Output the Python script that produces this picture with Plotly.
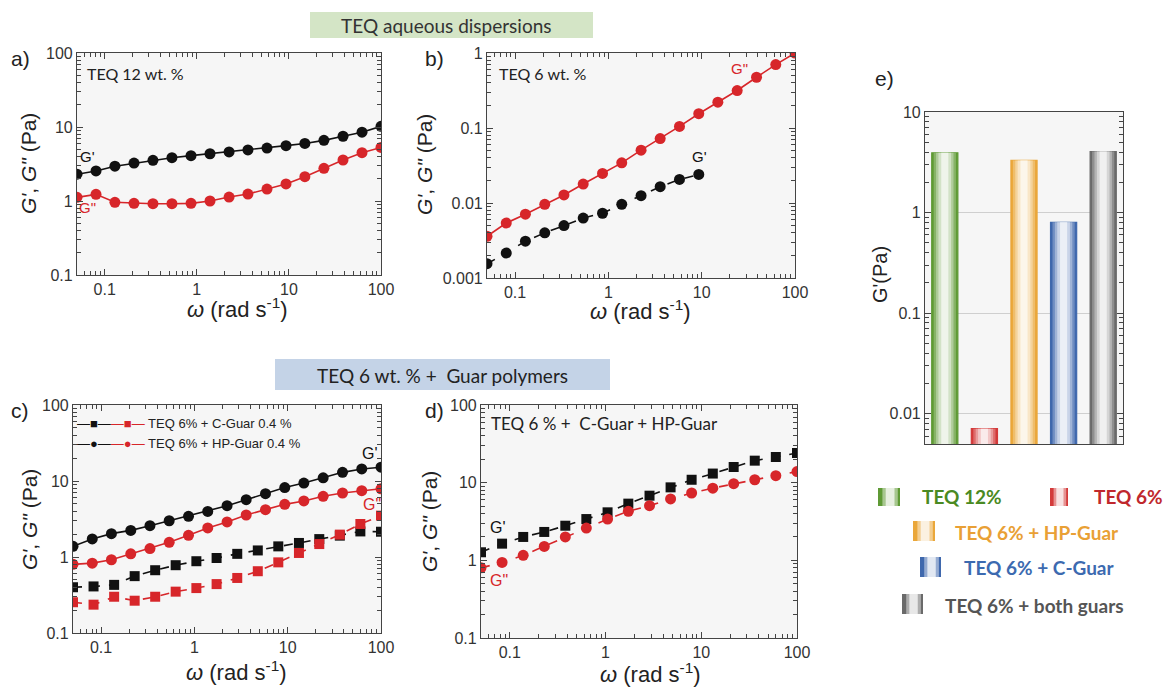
import math
import plotly.graph_objects as go

W, H = 1169, 691
def px(x): return x / W
def py(y): return 1 - y / H

# ---------------- data ----------------
omega17 = [0.05, 0.0804, 0.129, 0.208, 0.334, 0.537, 0.865, 1.39, 2.24, 3.59,
           5.78, 9.30, 14.9, 24.0, 38.7, 62.2, 100]
omega16 = [0.05, 0.083, 0.138, 0.229, 0.380, 0.630, 1.05, 1.73, 2.88, 4.78,
           7.93, 13.2, 21.8, 36.2, 60.1, 100]

# a) TEQ 12 wt.%
a_Gp = [2.3, 2.55, 2.95, 3.25, 3.55, 3.85, 4.1, 4.35, 4.6, 4.9, 5.2, 5.6, 6.0, 6.6, 7.5, 8.5, 10.2]
a_Gpp = [1.12, 1.23, 0.96, 0.93, 0.92, 0.92, 0.93, 1.0, 1.13, 1.24, 1.45, 1.7, 2.13, 2.76, 3.58, 4.5, 5.3]

# b) TEQ 6 wt.%
b_Gpp = [0.0036, 0.0054, 0.0071, 0.0096, 0.0128, 0.0179, 0.0248, 0.0343, 0.0506, 0.0722,
         0.105, 0.155, 0.221, 0.316, 0.475, 0.70, 1.0]
b_Gp = [0.00155, 0.00215, 0.0031, 0.0040, 0.0050, 0.0063, 0.0073, 0.0096, 0.0125, 0.0165,
        0.0206, 0.024]

# c) TEQ 6% + guar
c_hp_Gp = [1.38, 1.73, 2.03, 2.24, 2.58, 3.0, 3.43, 3.98, 4.73, 5.67, 6.8, 8.2, 9.4, 11.0, 13.0, 14.4, 15.2]
c_hp_Gpp = [0.80, 0.83, 0.92, 1.1, 1.29, 1.56, 1.93, 2.41, 2.89, 3.57, 4.2, 4.93, 5.46, 6.29, 6.95, 7.46, 7.9]
c_c_Gp = [0.40, 0.41, 0.43, 0.56, 0.67, 0.78, 0.88, 0.97, 1.1, 1.22, 1.38, 1.53, 1.72, 1.91, 2.17, 2.15]
c_c_Gpp = [0.254, 0.236, 0.30, 0.266, 0.30, 0.35, 0.39, 0.44, 0.53, 0.65, 0.85, 1.13, 1.48, 1.97, 2.72, 3.5]

# d) TEQ 6% + C-Guar + HP-Guar
d_Gp = [1.27, 1.64, 2.0, 2.32, 2.79, 3.4, 4.15, 5.37, 6.8, 8.7, 10.9, 13.1, 15.9, 19.2, 21.4, 24.1]
d_Gpp = [0.80, 0.94, 1.16, 1.51, 2.0, 2.6, 3.4, 4.27, 5.06, 6.17, 7.36, 8.5, 9.7, 10.9, 12.3, 13.9]

# e) G' bars
e_cats = ['TEQ 12%', 'TEQ 6%', 'TEQ 6% + HP-Guar', 'TEQ 6% + C-Guar', 'TEQ 6% + both guars']
e_vals = [3.93, 0.0071, 3.3, 0.80, 4.05]
e_colors = ['#5f9a35', '#d33a3a', '#eaa73a', '#3f68ad', '#6a6a6a']
e_text_colors = ['#4a8a22', '#c0282d', '#e9a035', '#3c6ab0', '#555555']

# tick labels
x_tickvals = [0.1, 1, 10, 100]
x_ticktext = ['0.1', '1', '10', '100']
y_tickvals_acd = [0.1, 1, 10, 100]
y_ticktext_acd = ['0.1', '1', '10', '100']
y_tickvals_b = [0.001, 0.01, 0.1, 1]
y_ticktext_b = ['0.001', '0.01', '0.1', '1']
y_tickvals_e = [0.01, 0.1, 1, 10]
y_ticktext_e = ['0.01', '0.1', '1', '10']
minor_tickvals = [m * 10.0 ** e for e in range(-4, 3) for m in range(2, 10)]

RED = '#d7262a'
BLK = '#111111'
FONT = 'Arial, Liberation Sans, sans-serif'
CAL = 'Lato, Open Sans, sans-serif'

fig = go.Figure()

def add_series(x, y, color, dash, symbol, ax, size=11):
    fig.add_trace(go.Scatter(
        x=x, y=y, mode='lines+markers',
        line=dict(color=color, width=1.6, dash=dash),
        marker=dict(symbol=symbol, size=size, color=color, line=dict(width=0)),
        xaxis='x' + ax, yaxis='y' + ax, showlegend=False, hoverinfo='x+y'))

# a
add_series(omega17, a_Gp, BLK, 'solid', 'circle', '')
add_series(omega17, a_Gpp, RED, 'solid', 'circle', '')
# b
add_series(omega17, b_Gpp, RED, 'solid', 'circle', '2')
add_series(omega17[:len(b_Gp)], b_Gp, BLK, 'dash', 'circle', '2')
# c
add_series(omega16, c_c_Gp, BLK, 'dash', 'square', '3', size=10)
add_series(omega16, c_c_Gpp, RED, 'dash', 'square', '3', size=10)
add_series(omega17, c_hp_Gp, BLK, 'solid', 'circle', '3')
add_series(omega17, c_hp_Gpp, RED, 'solid', 'circle', '3')
# d
add_series(omega16, d_Gp, BLK, 'dash', 'square', '4', size=10)
add_series(omega16, d_Gpp, RED, 'dash', 'circle', '4')

# e bars with a cylinder-like shading (overlaid narrower, lighter bars)
def blend(hexc, f):
    r, g, b = int(hexc[1:3], 16), int(hexc[3:5], 16), int(hexc[5:7], 16)
    r = int(r + (255 - r) * f); g = int(g + (255 - g) * f); b = int(b + (255 - b) * f)
    return f'rgb({r},{g},{b})'

layers = [(0.66, 0.0), (0.56, 0.25), (0.44, 0.5), (0.32, 0.72), (0.18, 0.9)]
for i, (w, f) in enumerate(layers):
    fig.add_trace(go.Bar(
        x=e_cats, y=e_vals, width=w,
        marker=dict(color=[blend(c, f) for c in e_colors],
                    line=dict(color=e_colors if i == 0 else 'rgba(0,0,0,0)',
                              width=1.2 if i == 0 else 0)),
        xaxis='x5', yaxis='y5', showlegend=False, hoverinfo='x+y'))

ax_common = dict(showline=True, linecolor='#444', linewidth=1.2, mirror='allticks',
                 ticks='inside', ticklen=6, tickcolor='#444', tickwidth=1,
                 showgrid=False, zeroline=False,
                 tickfont=dict(size=16, color='#333', family=FONT),
                 minor=dict(ticks='inside', ticklen=4, tickcolor='#444', tickwidth=1, showgrid=False,
                            tickmode='array', tickvals=minor_tickvals),
                 type='log', automargin=False, tickmode='array')

lx = [math.log10(0.05), 2]

def xax(dom, anchor):
    d = dict(ax_common); d.update(domain=dom, anchor=anchor, range=lx,
                                  tickvals=x_tickvals, ticktext=x_ticktext)
    return d

def yax(dom, anchor, rng, tv, tt):
    d = dict(ax_common); d.update(domain=dom, anchor=anchor, range=rng, tickvals=tv, ticktext=tt)
    return d

layout = dict(
    width=W, height=H, margin=dict(l=0, r=0, t=0, b=0),
    paper_bgcolor='white', plot_bgcolor='#f6f6f6',
    barmode='overlay',
    xaxis=xax([px(77), px(381)], 'y'),
    yaxis=yax([py(275), py(53)], 'x', [-1, 2], y_tickvals_acd, y_ticktext_acd),
    xaxis2=xax([px(487), px(795)], 'y2'),
    yaxis2=yax([py(278), py(53)], 'x2', [-3, 0], y_tickvals_b, y_ticktext_b),
    xaxis3=xax([px(73), px(381)], 'y3'),
    yaxis3=yax([py(633), py(405)], 'x3', [-1, 2], y_tickvals_acd, y_ticktext_acd),
    xaxis4=xax([px(481), px(797)], 'y4'),
    yaxis4=yax([py(638), py(405)], 'x4', [-1, 2], y_tickvals_acd, y_ticktext_acd),
    xaxis5=dict(domain=[px(925), px(1123)], anchor='y5', type='category', range=[-0.5, 4.5],
                showline=True, linecolor='#444', linewidth=1.2, mirror=True, ticks='',
                showticklabels=False, showgrid=False, zeroline=False),
    yaxis5=dict(ax_common, domain=[py(444), py(112)], anchor='x5',
                range=[math.log10(0.005), 1], tickvals=y_tickvals_e, ticktext=y_ticktext_e,
                showgrid=True, gridcolor='#cfcfcf', gridwidth=1),
)
fig.update_layout(**layout)

ann = []
def text(x, y, s, size=15, color='#222', family=FONT, xanchor='center', angle=0):
    ann.append(dict(x=px(x), y=py(y), xref='paper', yref='paper', text=s, showarrow=False,
                    xanchor=xanchor, yanchor='middle', textangle=angle,
                    font=dict(size=size, color=color, family=family)))

ytitle = "<i>G'</i>, <i>G\"</i> (Pa)"
xtitle = "<i>ω</i> (rad s<sup>-1</sup>)"
# axis titles
text(29, 164, ytitle, size=21, angle=-90)
text(237, 308, xtitle, size=22)
text(424, 165, ytitle, size=21, angle=-90)
text(640, 310, xtitle, size=22)
text(29, 520, ytitle, size=21, angle=-90)
text(236, 671, xtitle, size=22)
text(429, 522, ytitle, size=21, angle=-90)
text(651, 673, xtitle, size=22)
text(880, 275, "G'(Pa)", size=20, angle=-90)

# panel letters
text(20, 58, 'a)', size=21)
text(434, 58, 'b)', size=21)
text(20, 410, 'c)', size=21)
text(434, 410, 'd)', size=21)
text(884, 78, 'e)', size=21)

# inner labels
text(85, 73, 'TEQ 12 wt. %', size=16, family=CAL, xanchor='left')
text(87, 157, "G'", size=15, color=BLK)
text(87, 207, 'G"', size=15, color=RED)
text(497, 73, 'TEQ 6 wt. %', size=16, family=CAL, xanchor='left')
text(739, 68, 'G"', size=15, color=RED)
text(700, 157, "G'", size=15, color=BLK)
text(370, 453, "G'", size=16, color=BLK)
text(372, 504, 'G"', size=16, color=RED)
text(489, 423, 'TEQ 6 % +  C-Guar + HP-Guar', size=17, family=CAL, xanchor='left')
text(498, 527, "G'", size=16, color=BLK)
text(499, 580, 'G"', size=16, color=RED)

# legend inside c
leg_c_names = ['TEQ 6% + C-Guar 0.4 %', 'TEQ 6% + HP-Guar 0.4 %']
leg_c_syms = ['■', '●']
for k, (nm, sy) in enumerate(zip(leg_c_names, leg_c_syms)):
    s = ("<span style='color:#111'>—" + sy + "—</span><span style='color:" + RED + "'>—" + sy +
         "—</span> <span style='color:#222'>" + nm + "</span>")
    text(75, 423 + 20 * k, s, size=13, xanchor='left')

# header boxes
shapes = []
shapes.append(dict(type='rect', xref='paper', yref='paper', x0=px(310), x1=px(593), y0=py(38), y1=py(12),
                   fillcolor='#d4e5c6', line=dict(width=0), layer='below'))
text(446, 25, 'TEQ aqueous dispersions', size=19, family=CAL, color='#333')
shapes.append(dict(type='rect', xref='paper', yref='paper', x0=px(275), x1=px(610), y0=py(390), y1=py(359),
                   fillcolor='#c4d3e7', line=dict(width=0), layer='below'))
text(442, 375, 'TEQ 6 wt. % +  Guar polymers', size=19, family=CAL, color='#222')

# legend for e
leg = [  # (swatch x0, x1, y0, y1, text left x, text y)
    (878, 900, 488, 506, 920, 497),
    (1050, 1068, 488, 506, 1092, 497),
    (913, 935, 521, 541, 953, 532),
    (920, 941, 557, 577, 962, 567),
    (902, 923, 594, 614, 943, 605),
]
for i, (x0, x1, y0, y1, tx, ty) in enumerate(leg):
    c = e_colors[i]
    shapes.append(dict(type='rect', xref='paper', yref='paper', x0=px(x0), x1=px(x1), y0=py(y1), y1=py(y0),
                       fillcolor=c, line=dict(width=0)))
    wdt = x1 - x0
    for frac, f in [(0.7, 0.45), (0.4, 0.85)]:
        cx = x0 + wdt * 0.55
        shapes.append(dict(type='rect', xref='paper', yref='paper',
                           x0=px(cx - wdt * frac / 2), x1=px(cx + wdt * frac / 2), y0=py(y1), y1=py(y0),
                           fillcolor=blend(c, f), line=dict(width=0)))
    text(tx, ty, '<b>' + e_cats[i] + '</b>', size=19, family=CAL, color=e_text_colors[i], xanchor='left')

fig.update_layout(annotations=ann, shapes=shapes)
fig.write_html('out.html', post_script="document.body.style.margin='0';",
               config={'displayModeBar': False})
